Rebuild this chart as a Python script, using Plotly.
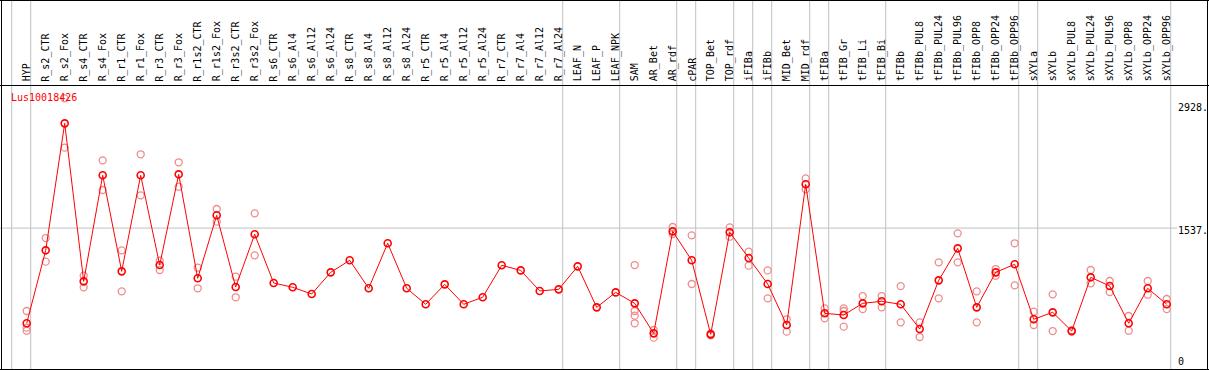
import plotly.graph_objects as go

W, H = 1209, 370

categories = [
    "HYP", "R_s2_CTR", "R_s2_Fox", "R_s4_CTR", "R_s4_Fox", "R_r1_CTR", "R_r1_Fox",
    "R_r3_CTR", "R_r3_Fox", "R_r1s2_CTR", "R_r1s2_Fox", "R_r3s2_CTR", "R_r3s2_Fox",
    "R_s6_CTR", "R_s6_Al4", "R_s6_Al12", "R_s6_Al24", "R_s8_CTR", "R_s8_Al4",
    "R_s8_Al12", "R_s8_Al24", "R_r5_CTR", "R_r5_Al4", "R_r5_Al12", "R_r5_Al24",
    "R_r7_CTR", "R_r7_Al4", "R_r7_Al12", "R_r7_Al24", "LEAF_N", "LEAF_P", "LEAF_NPK",
    "SAM", "AR_Bet", "AR_rdf", "cPAR", "TOP_Bet", "TOP_rdf", "iFIBa", "iFIBb",
    "MID_Bet", "MID_rdf", "tFIBa", "tFIB_Gr", "tFIB_Li", "tFIB_Bi", "tFIBb",
    "tFIBb_PUL8", "tFIBb_PUL24", "tFIBb_PUL96", "tFIBb_OPP8", "tFIBb_OPP24",
    "tFIBb_OPP96", "sXYLa", "sXYLb", "sXYLb_PUL8", "sXYLb_PUL24", "sXYLb_PUL96",
    "sXYLb_OPP8", "sXYLb_OPP24", "sXYLb_OPP96",
]

mean_values = [
    468, 1287, 2712, 939, 2129, 1051, 2129, 1122, 2140, 973, 1680, 875, 1467,
    920, 872, 797, 1040, 1175, 861, 1366, 861, 681, 905, 681, 760, 1119, 1062,
    831, 849, 1107, 647, 815,
    692, 355, 1500, 1175, 344, 1489, 1201, 909, 449, 2028, 580, 561, 692, 715,
    681, 404, 950, 1309, 647, 1040, 1130, 513, 591, 381, 984, 887, 468, 861, 681,
]

replicates = [
    [606, 419, 385], [1425, 1160], [2993, 2439], [1002, 872], [2297, 1964],
    [1287, 827], [2365, 1904], [1171, 1066], [2275, 2001], [1092, 861],
    [1751, 1609], [991, 760], [1702, 1231],
    [], [], [], [], [], [], [], [], [], [], [], [], [], [], [], [], [], [], [],
    [1122, 606, 554, 468], [393, 307], [1549, 1470], [1455, 909], [355, 333],
    [1545, 1440], [1272, 1115], [1062, 748], [513, 374], [2095, 1972],
    [636, 524], [636, 606, 430], [774, 628], [774, 647], [886, 479],
    [479, 314], [1152, 748], [1478, 1152], [827, 479], [1077, 1002],
    [1366, 894], [598, 449], [793, 381], [390, 372], [1066, 917], [943, 819],
    [550, 385], [943, 789], [741, 628],
]

# indices after which a group separator line is drawn (-1 = before first)
group_ends = [-1, 0, 28, 31, 34, 35, 37, 38, 39, 41, 42, 45, 52, 53, 60]

y_ticks = [2928, 1537, 0]
y_tick_labels = ["2928.", "1537.", "0"]
gene_name = "Lus10018426"

# ---- layout constants (pixel geometry) ----
X_MIN, X_MAX = -1.405, 62.226
Y_MIN, Y_MAX = -56.1, 4096.5
MONO = "DejaVu Sans Mono"


def px_x(p):
    return p / W


def px_y(p):
    return 1 - p / H


x_idx = list(range(len(categories)))
rep_x, rep_y = [], []
for i, reps in enumerate(replicates):
    for v in reps:
        rep_x.append(i)
        rep_y.append(v)

fig = go.Figure()
fig.add_trace(go.Scatter(
    x=rep_x, y=rep_y, mode="markers",
    marker=dict(symbol="circle-open", size=7, color="rgb(238,140,140)",
                line=dict(width=1.3, color="rgb(238,140,140)")),
    hoverinfo="skip", showlegend=False,
))
fig.add_trace(go.Scatter(
    x=x_idx, y=mean_values, mode="lines+markers",
    line=dict(color="#ff0000", width=1),
    marker=dict(symbol="circle-open", size=7, color="#ff0000",
                line=dict(width=1.6, color="#ff0000")),
    showlegend=False,
))

shapes = []
# vertical group separators
for k in group_ends:
    shapes.append(dict(type="line", xref="x", yref="paper",
                       x0=k + 4 / 19, x1=k + 4 / 19, y0=0, y1=1,
                       line=dict(color="#c0c0c0", width=1), layer="below"))
# horizontal gridline at middle tick
shapes.append(dict(type="line", xref="paper", yref="y",
                   x0=0, x1=px_x(1177), y0=y_ticks[1], y1=y_ticks[1],
                   line=dict(color="#c0c0c0", width=1), layer="below"))
# borders
for (x0, y0, x1, y1) in [
    (0, 0.5, W, 0.5),          # top
    (0, 85.5, W, 85.5),        # header bottom
    (0, 369.5, W, 369.5),      # bottom
    (1.5, 0, 1.5, H),          # left
    (1207.5, 0, 1207.5, H),    # right
]:
    shapes.append(dict(type="line", xref="paper", yref="paper",
                       x0=px_x(x0), x1=px_x(x1), y0=px_y(y0), y1=px_y(y1),
                       line=dict(color="black", width=1)))

annotations = []
for i, name in enumerate(categories):
    annotations.append(dict(
        x=i, xref="x", y=px_y(83.5), yref="paper", text=name, textangle=-90,
        showarrow=False, xanchor="center", yanchor="bottom",
        font=dict(family=MONO, size=10, color="black"),
    ))

annotations.append(dict(
    x=px_x(9), xref="paper", y=px_y(97.3), yref="paper", text=gene_name,
    showarrow=False, xanchor="left", yanchor="middle",
    font=dict(family=MONO, size=10, color="#ff0000"),
))

tick_centers = [107.5, 231.0, 361.7]
for lab, yc in zip(y_tick_labels, tick_centers):
    annotations.append(dict(
        x=px_x(1176), xref="paper", y=px_y(yc), yref="paper", text=lab,
        showarrow=False, xanchor="left", yanchor="middle",
        font=dict(family=MONO, size=10, color="black"),
    ))

fig.update_layout(
    width=W, height=H,
    margin=dict(l=0, r=0, t=0, b=0, pad=0),
    paper_bgcolor="white", plot_bgcolor="white",
    xaxis=dict(range=[X_MIN, X_MAX], visible=False, showgrid=False, zeroline=False),
    yaxis=dict(range=[Y_MIN, Y_MAX], visible=False, showgrid=False, zeroline=False),
    shapes=shapes, annotations=annotations, showlegend=False,
)

fig.write_html(
    "out.html",
    config={"displayModeBar": False},
    post_script="document.body.style.margin='0';document.body.style.overflow='hidden';",
)
